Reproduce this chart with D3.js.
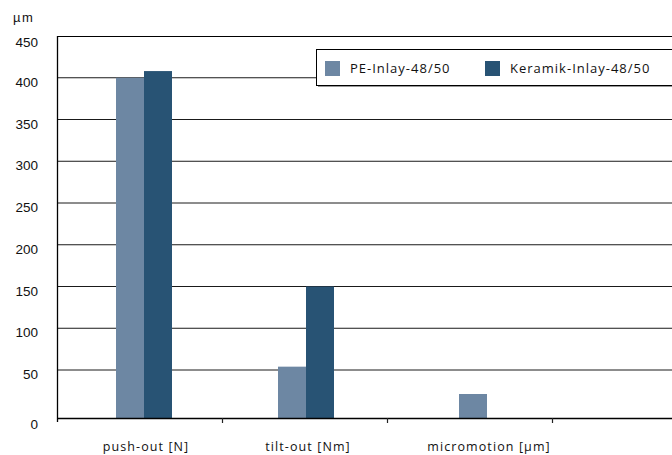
<!DOCTYPE html>
<html>
<head>
<meta charset="utf-8">
<script src="https://cdn.jsdelivr.net/npm/d3@7/dist/d3.min.js"></script>
<style>
  html, body { margin: 0; padding: 0; background: #fff; }
  svg { display: block; }
</style>
</head>
<body>
<svg id="chart" width="672" height="455"></svg>
<script>
// Categories and series
const categories = ["push-out [N]", "tilt-out [Nm]", "micromotion [µm]"];
const seriesNames = ["PE-Inlay-48/50", "Keramik-Inlay-48/50"];
const peValues = [400, 54, 25];
const keramikValues = [408, 150, null];
const yTickValues = [0, 50, 100, 150, 200, 250, 300, 350, 400, 450];
const yUnit = "µm";

const colors = ["#6d87a3", "#285374"];

const svg = d3.select("#chart");
const W = 672;
const plotLeft = 57, plotTop = 36, baseline = 418;

// Value axis: the zero baseline sits a little lower than the even 50-step grid
const y = d3.scaleLinear().domain([0, 50, 450]).range([baseline, 370, plotTop]);

// Category frame: equal bands with major ticks between them
const frame = d3.scaleBand().domain([...categories, "_"]).range([plotLeft, plotLeft + 4 * 165]);
// Group centres for the bars of each category
const xc = d3.scaleLinear().domain([0, 1, 2]).range([144, 306, 487]);
const barW = 28;

// grid lines
svg.append("g").selectAll("line")
  .data(yTickValues.filter(v => v > 0 && v < 450))
  .join("line")
  .attr("x1", plotLeft).attr("x2", W)
  .attr("y1", d => y(d)).attr("y2", d => y(d))
  .attr("stroke", "#1a1a1a").attr("stroke-width", 1);

// bars
const series = [peValues, keramikValues];
series.forEach((vals, s) => {
  svg.append("g").selectAll("rect")
    .data(vals.map((v, i) => ({ v, i })).filter(d => d.v != null && d.v > 0))
    .join("rect")
    .attr("x", d => xc(d.i) + (s === 0 ? -barW : 0))
    .attr("width", barW)
    .attr("y", d => y(d.v))
    .attr("height", d => baseline - y(d.v))
    .attr("fill", colors[s]);
});

// frame: top border, left axis, bottom axis
svg.append("line").attr("x1", plotLeft).attr("x2", W).attr("y1", plotTop + 0.5).attr("y2", plotTop + 0.5)
  .attr("stroke", "#000").attr("stroke-width", 1.2);
svg.append("line").attr("x1", plotLeft + 0.5).attr("x2", plotLeft + 0.5).attr("y1", plotTop).attr("y2", baseline + 4)
  .attr("stroke", "#000").attr("stroke-width", 1.3);
svg.append("line").attr("x1", plotLeft).attr("x2", W).attr("y1", baseline + 0.5).attr("y2", baseline + 0.5)
  .attr("stroke", "#000").attr("stroke-width", 1.3);

// major category ticks
svg.append("g").selectAll("line")
  .data(frame.domain().slice(1))
  .join("line")
  .attr("x1", d => frame(d) + 0.5).attr("x2", d => frame(d) + 0.5)
  .attr("y1", baseline).attr("y2", baseline + 5)
  .attr("stroke", "#222").attr("stroke-width", 1.2);

// y tick labels
svg.append("g").selectAll("text")
  .data(yTickValues)
  .join("text")
  .attr("x", 38)
  .attr("y", d => y(d) + (d === 0 || d === 450 ? 11 : 9))
  .attr("text-anchor", "end")
  .attr("font-family", "'Liberation Sans', Arial, sans-serif")
  .attr("font-size", 13.5)
  .attr("fill", "#111")
  .text(d => d);

// unit label
svg.append("text")
  .attr("x", 13).attr("y", 22)
  .attr("font-family", "'Liberation Sans', Arial, sans-serif")
  .attr("font-size", 13)
  .attr("letter-spacing", 1.5)
  .attr("fill", "#111")
  .text(yUnit);

// category labels
svg.append("g").selectAll("text")
  .data(categories)
  .join("text")
  .attr("x", (d, i) => xc(i) + 2)
  .attr("y", 451)
  .attr("text-anchor", "middle")
  .attr("font-family", "'Open Sans', sans-serif")
  .attr("font-size", 12.5)
  .attr("letter-spacing", 1.1)
  .attr("fill", "#111")
  .text(d => d);

// legend
const lg = svg.append("g");
lg.append("rect").attr("x", 318).attr("y", 51).attr("width", 360).attr("height", 36)
  .attr("fill", "#999");
lg.append("rect").attr("x", 316.5).attr("y", 49.5).attr("width", 360).attr("height", 36)
  .attr("fill", "#fff").attr("stroke", "#000").attr("stroke-width", 1);
const legendX = [325, 485];
seriesNames.forEach((name, s) => {
  lg.append("rect").attr("x", legendX[s]).attr("y", 61).attr("width", 15).attr("height", 15)
    .attr("fill", colors[s]);
  lg.append("text").attr("x", legendX[s] + 25).attr("y", 73)
    .attr("font-family", "'Open Sans', sans-serif")
    .attr("font-size", 13)
    .attr("letter-spacing", 1)
    .attr("fill", "#111")
    .text(name);
});
</script>
</body>
</html>
